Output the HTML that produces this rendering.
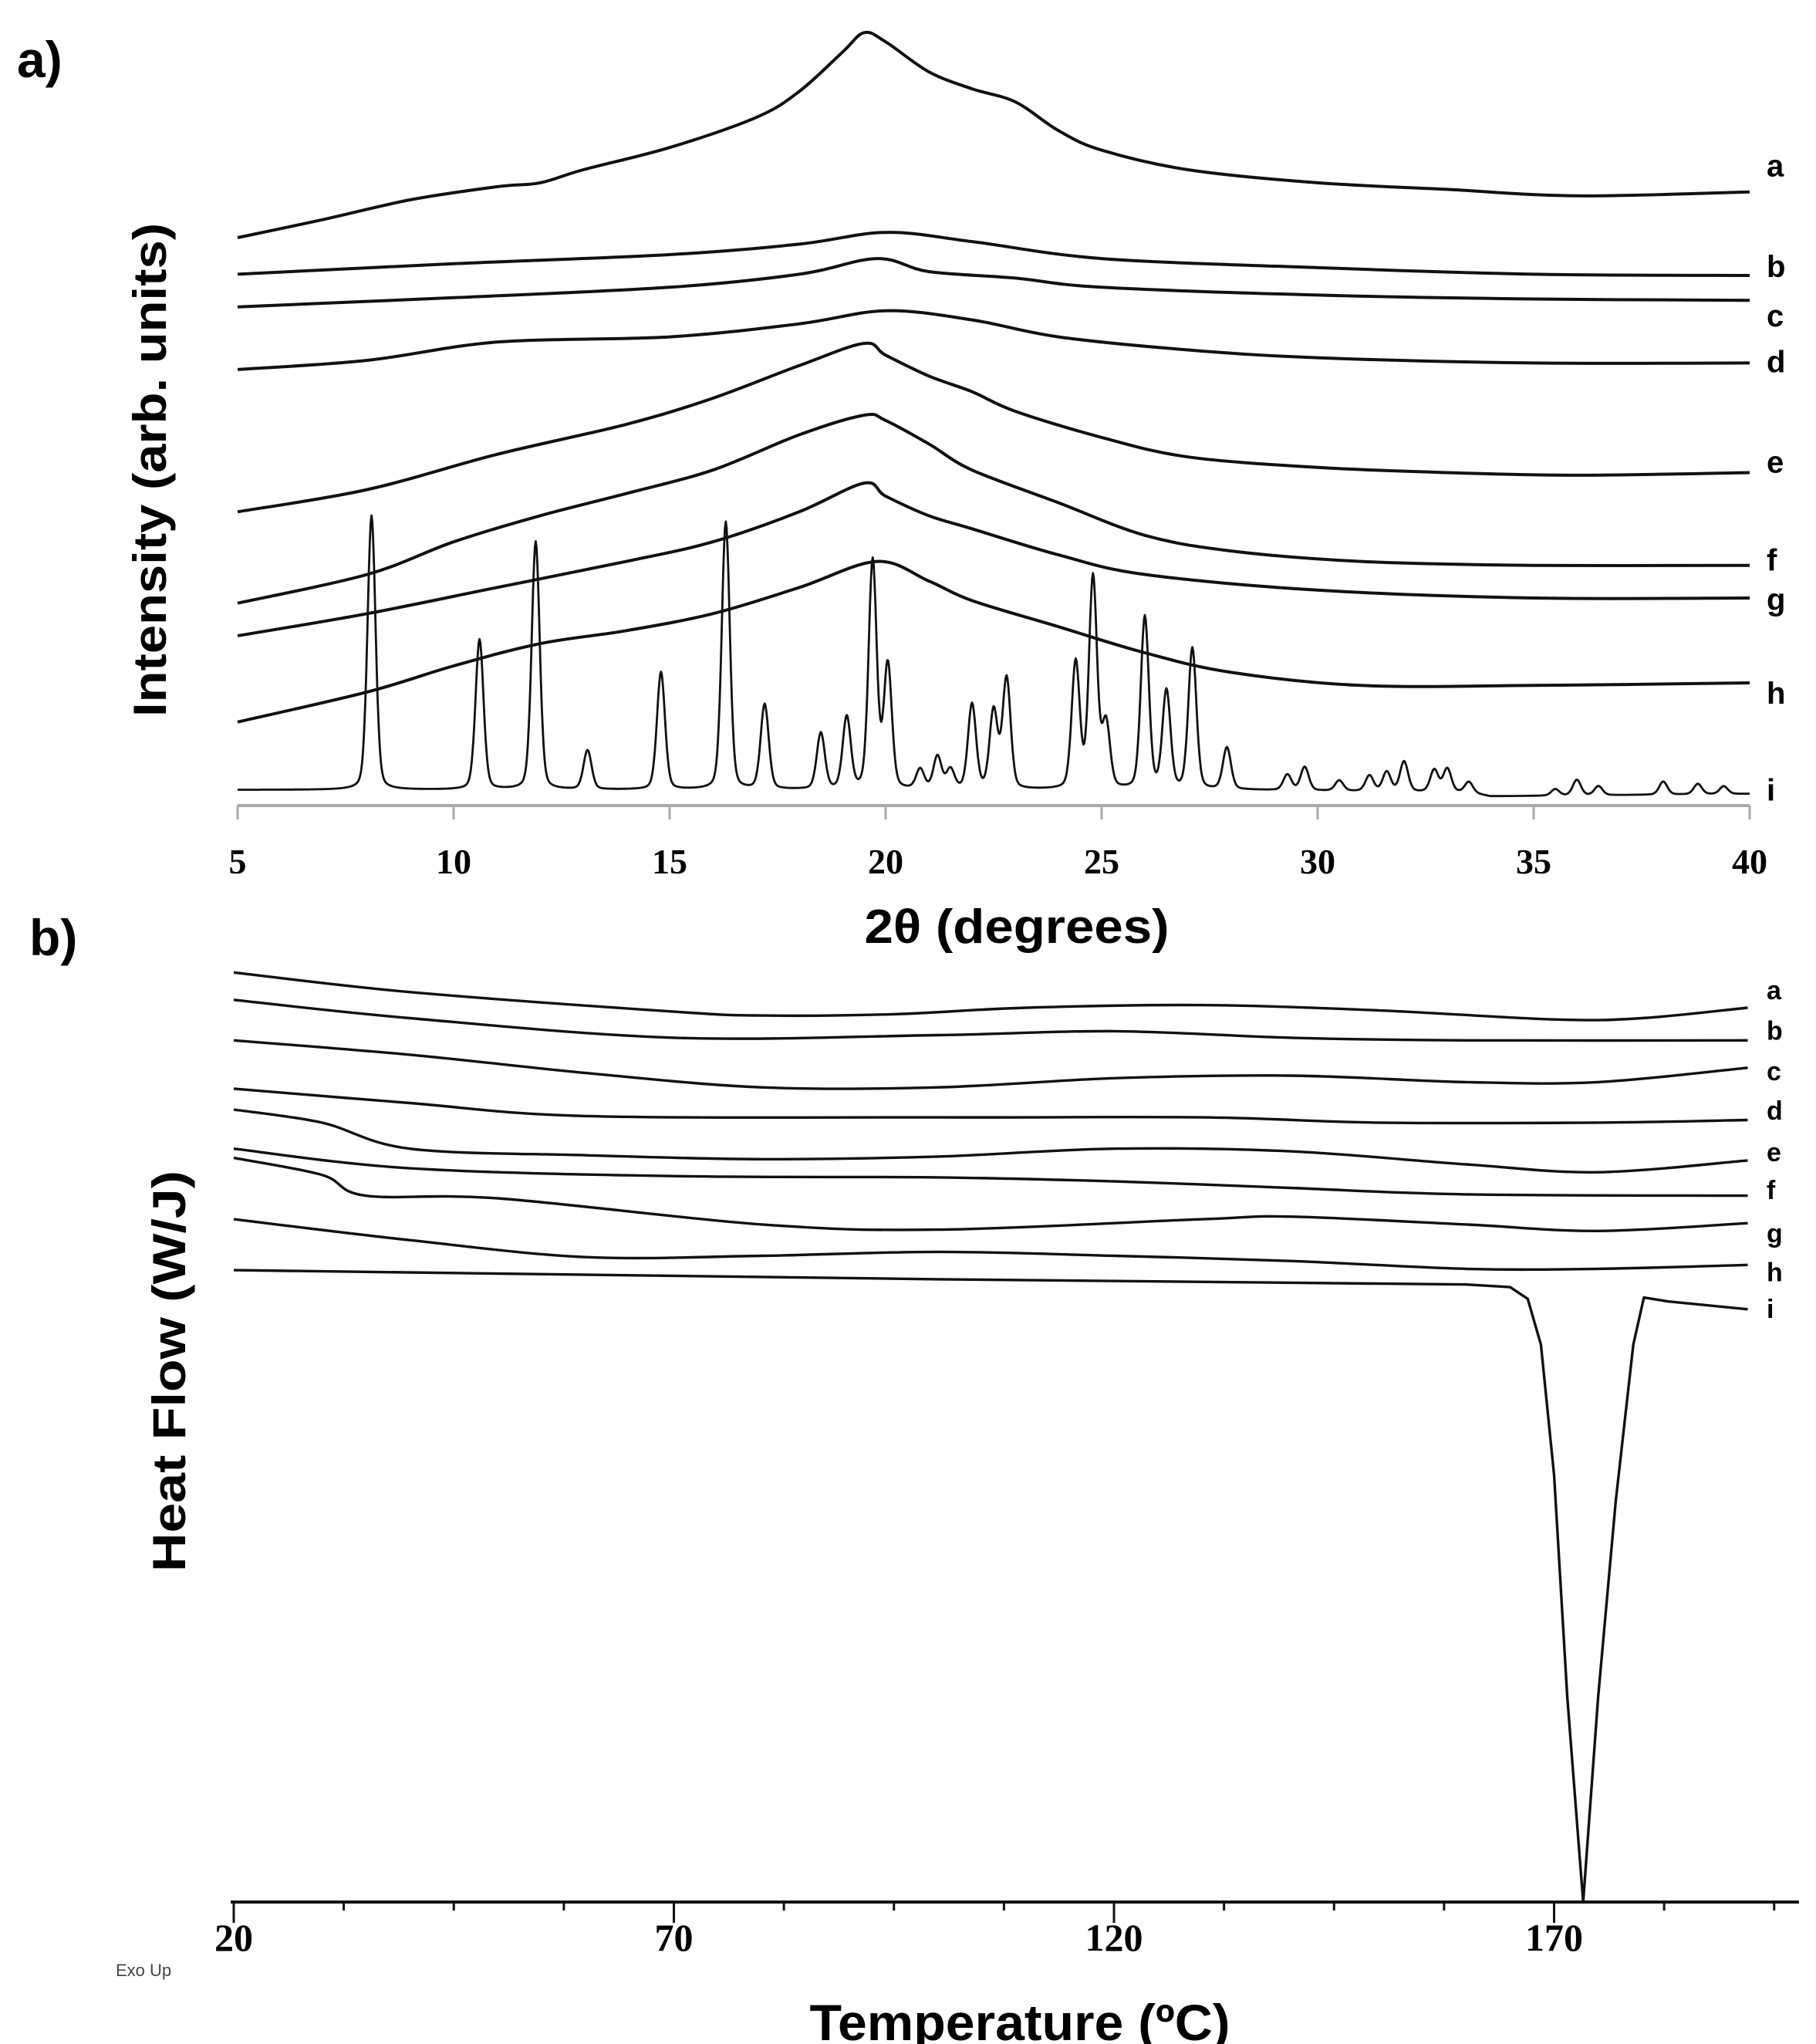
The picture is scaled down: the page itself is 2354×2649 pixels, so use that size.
<!DOCTYPE html>
<html><head><meta charset="utf-8">
<style>
html,body{margin:0;padding:0;background:#fff;}
svg{display:block;}
.sans{font-family:"Liberation Sans",sans-serif;font-weight:bold;}
.serif{font-family:"Liberation Serif",serif;font-weight:bold;}
</style></head>
<body>
<svg id="fig" width="2354" height="2649" viewBox="0 0 2354 2649" xmlns="http://www.w3.org/2000/svg">
<rect width="2354" height="2649" fill="#fff"/>
<text class="sans" x="22" y="100" font-size="66">a)</text>
<text class="sans" x="38" y="1238" font-size="66">b)</text>
<text class="sans" font-size="60" text-anchor="middle" transform="translate(215,609) rotate(-90)" textLength="640" lengthAdjust="spacingAndGlyphs">Intensity (arb. units)</text>
<text class="sans" font-size="62" text-anchor="middle" x="1318" y="1222" textLength="395" lengthAdjust="spacingAndGlyphs">2θ (degrees)</text>
<text class="sans" font-size="60" text-anchor="middle" transform="translate(240,1777) rotate(-90)" textLength="520" lengthAdjust="spacingAndGlyphs">Heat Flow (W/J)</text>
<text class="sans" font-size="66" text-anchor="middle" x="1322" y="2644" textLength="545" lengthAdjust="spacingAndGlyphs">Temperature (ºC)</text>
<text font-family="Liberation Sans,sans-serif" font-size="22" fill="#444" x="150" y="2561">Exo Up</text>
<g id="xrd"></g>
<g id="dsc"></g>
</svg>
<script>
// ---------- XRD data (intensity, arbitrary units) ----------
const xrdLabels = ["a","b","c","d","e","f","g","h"];
const xrdX = {
 a:[5,7,9,11,12,13,15,17,18,19,19.5,20,21,22,23,24,25,27,30,33,36,40],
 b:[5,10,15,18,20,22,25,30,35,40],
 c:[5,10,15,18,19.8,21,23,25,30,35,40],
 d:[5,8,11,15,18,20,22,24,27,30,35,40],
 e:[5,8,11,14,16,18,19.5,20,21,22,23,25,27,30,33,36,40],
 f:[5,8,10,12,14,16,18,19.5,20,21,22,24,26,28,31,35,40],
 g:[5,8,11,14,16,18,19.5,20,21,22,24,26,30,35,40],
 h:[5,8,10,12,14,16,18,19.8,21,22,24,26,28,31,35,40]
};
const xrdY = {
 a:[435,449,464,474,477,487,504,527,547,577,592,585,562,549,539,517,502,487,477,472,467,470],
 b:[407,415,422,430,439,432,419,412,407,406],
 c:[382,389,397,407,419,409,404,397,391,388,387],
 d:[334,341,355,359,369,379,372,359,349,343,339,339],
 e:[225,242,269,292,312,337,354,345,329,317,302,282,267,259,255,253,255],
 f:[155,177,202,222,239,257,284,299,295,277,257,232,207,195,187,184,184],
 g:[130,147,167,187,202,225,247,237,222,212,192,177,165,159,159],
 h:[64,87,107,124,134,147,167,187,172,157,137,117,102,92,92,94]
};
const xrdLabelY = [128,205,243,278,355,430,460,532,606];
const iPeakPos = [8.1,10.6,11.9,13.1,14.8,16.3,17.2,18.5,19.1,19.7,20.05,20.8,21.2,21.5,22.0,22.5,22.8,24.4,24.8,25.1,26.0,26.5,27.1,27.9,29.3,29.7,30.5,31.2,31.6,32.0,32.7,33.0,33.5,35.5,36.0,36.5,38.0,38.8,39.4];
const iPeakHeight = [210,115,190,30,90,205,65,43,55,175,95,15,25,15,65,60,85,97,162,50,132,75,108,32,12,18,8,12,15,23,17,18,8,5,12,7,10,8,6];
const iBaseX = [5,28,33.5,34,40];
const iBaseY = [12,12,10,7,9];
const xrdTicks = [5,10,15,20,25,30,35,40];

// ---------- DSC data (heat flow, arbitrary units, exo up) ----------
const dscLabels = ["a","b","c","d","e","f","g","h","i"];
const dscT = {
 a:[20,40,70,80,95,110,130,150,170,180,192],
 b:[20,40,70,100,120,140,160,192],
 c:[20,40,60,80,100,120,140,160,175,192],
 d:[20,40,60,100,130,150,175,192],
 e:[20,30,40,60,80,100,120,140,160,175,192],
 f:[20,40,70,100,120,140,160,192],
 g:[20,30,35,50,80,100,130,140,160,175,192],
 h:[20,40,60,80,100,120,140,160,175,192],
 i:[20,100,160,165,167,168.5,170,171.5,173.3,175,177,179,180.2,183,192]
};
const dscHF = {
 a:[712,697,682,679,680,685,687,683,676,677,685],
 b:[691,677,662,664,667,662,660,660],
 c:[660,649,635,624,624,631,633,628,628,639],
 d:[623,612,602,601,601,597,597,599],
 e:[607,597,577,572,569,571,577,575,565,559,568],
 f:[577,562,556,555,552,547,542,541],
 g:[570,557,541,539,519,515,523,525,519,514,520],
 h:[523,507,494,495,498,495,491,485,485,488],
 i:[484,477,473,471,462,427,327,157,0,157,307,427,463,460,454]
};
const dscLabelY = [759,790,821,851,883,912,945,975,1003];
const dscMajorTicks = [20,70,120,170];

const NS="http://www.w3.org/2000/svg";
const K=1.692;
const xx = v => 308 + (v-5)*(2268-308)/35;
const xy = I => 1044 - I*K;
const dx = t => 303 + (t-20)*11.41;
const dy = h => 2465 - h*K;

function mk(tag, attrs, parent){const e=document.createElementNS(NS,tag);for(const k in attrs)e.setAttribute(k,attrs[k]);parent.appendChild(e);return e;}
function smooth(pts){
 let d="M"+pts[0][0].toFixed(1)+","+pts[0][1].toFixed(1);
 for(let i=0;i<pts.length-1;i++){
  const p0=pts[Math.max(0,i-1)],p1=pts[i],p2=pts[i+1],p3=pts[Math.min(pts.length-1,i+2)];
  const c1=[p1[0]+(p2[0]-p0[0])/6,p1[1]+(p2[1]-p0[1])/6];
  const c2=[p2[0]-(p3[0]-p1[0])/6,p2[1]-(p3[1]-p1[1])/6];
  d+="C"+c1[0].toFixed(1)+","+c1[1].toFixed(1)+" "+c2[0].toFixed(1)+","+c2[1].toFixed(1)+" "+p2[0].toFixed(1)+","+p2[1].toFixed(1);
 }
 return d;
}
function interp(xs,ys,v){for(let i=0;i<xs.length-1;i++){if(v<=xs[i+1]){const f=(v-xs[i])/(xs[i+1]-xs[i]);return ys[i]+f*(ys[i+1]-ys[i]);}}return ys[ys.length-1];}

// ----- XRD -----
const gx=document.getElementById('xrd');
const axisA=mk('line',{x1:xx(5),y1:1044,x2:xx(40),y2:1044,stroke:'#aaa','stroke-width':4},gx);


xrdTicks.forEach(t=>{
 const tk=mk('line',{x1:xx(t),y1:1044,x2:xx(t),y2:1062,stroke:'#aaa','stroke-width':3},gx);
 
 
 const tl=mk('text',{x:xx(t),y:1132,'text-anchor':'middle','font-size':46,class:'serif'},gx);
 tl.textContent=t;
 
 
});
xrdLabels.forEach(k=>{
 const pts=xrdX[k].map((v,i)=>[xx(v),xy(xrdY[k][i])]);
 const p=mk('path',{d:smooth(pts),fill:'none',stroke:'#111','stroke-width':4},gx);
 
 
});
{
 let d="";
 for(let v=5;v<=40.0001;v+=0.02){
  let I=interp(iBaseX,iBaseY,v);
  for(let j=0;j<iPeakPos.length;j++){
   const u=(v-iPeakPos[j])/0.11;
   I+=iPeakHeight[j]*(0.75*Math.exp(-0.693*u*u)+0.25/(1+u*u));
  }
  d+=(d?"L":"M")+xx(v).toFixed(1)+","+xy(I).toFixed(1);
 }
 const p=mk('path',{d:d,fill:'none',stroke:'#111','stroke-width':2.8,'stroke-linejoin':'round'},gx);
 
 
}
["a","b","c","d","e","f","g","h","i"].forEach((k,i)=>{
 const t=mk('text',{x:2290,y:xrdLabelY[i]*K+12,'font-size':40,class:'sans'},gx);
 t.textContent=k;
 
 
});

// ----- DSC -----
const gd=document.getElementById('dsc');
const axisB=mk('line',{x1:dx(20)-4,y1:2465,x2:2332,y2:2465,stroke:'#111','stroke-width':4},gd);


for(let t=20;t<=200;t+=12.5){
 const major=dscMajorTicks.indexOf(t)>=0;
 const tk=mk('line',{x1:dx(t),y1:2465,x2:dx(t),y2:major?2492:2476,stroke:'#111','stroke-width':3},gd);
 
 
}
dscMajorTicks.forEach(t=>{
 const tl=mk('text',{x:dx(t),y:2528,'text-anchor':'middle','font-size':50,class:'serif'},gd);
 tl.textContent=t;
 
 
});
dscLabels.forEach(k=>{
 const pts=dscT[k].map((v,i)=>[dx(v),dy(dscHF[k][i])]);
 let d;
 if(k==="i"){d="M"+pts.map(p=>p[0].toFixed(1)+","+p[1].toFixed(1)).join("L");}
 else d=smooth(pts);
 const p=mk('path',{d:d,fill:'none',stroke:'#111','stroke-width':3.4,'stroke-linejoin':'round'},gd);
 
 
});
dscLabels.forEach((k,i)=>{
 const t=mk('text',{x:2290,y:dscLabelY[i]*K+11,'font-size':34,class:'sans'},gd);
 t.textContent=k;
 
 
});
</script>
</body></html>
